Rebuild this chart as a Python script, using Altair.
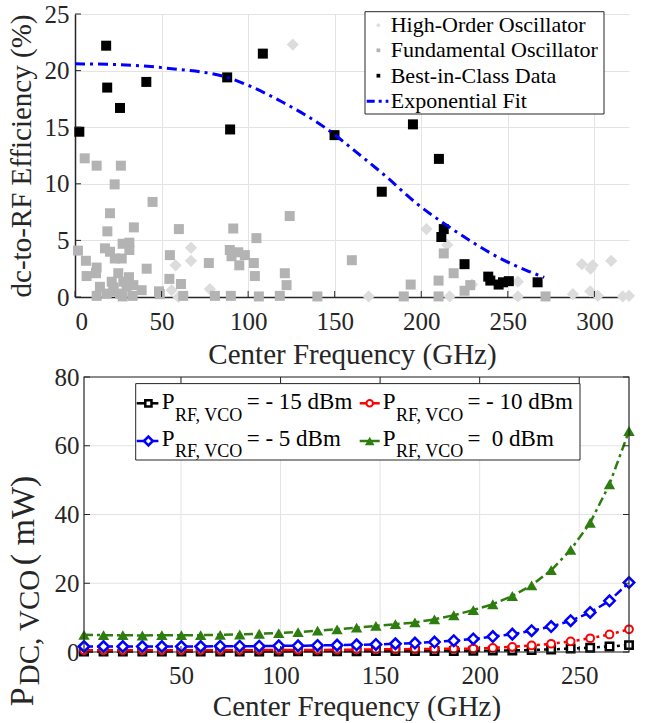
import altair as alt
import pandas as pd

FONT = "'Liberation Serif', 'Times New Roman', Times, 'DejaVu Serif', serif"
INK = "#262626"
GRID = "#e3e3e3"

# ---------------- top panel data ----------------
high_f = [125.8, 58.1, 67.0, 67.0, 77.9, 59.7, 55.8, 169.6, 203.0, 215.0, 216.4, 229.3,
          255.8, 255.8, 287.6, 292.8, 297.8, 299.0, 309.7, 297.6, 302.0, 316.4, 320.0]
high_e = [22.3, 2.8, 4.35, 3.2, 0.7, 0.0, 0.6, 0.05, 6.0, 4.6, 0.05, 1.1,
          1.35, 0.05, 0.25, 2.9, 2.5, 2.8, 3.2, 0.5, 0.1, 0.05, 0.1]

fund_f = [5.6, 12.5, 26.5, 22.9, 44.8, 20.2, 124.0, 18.7, 34.0, 60.0, 91.4, 104.8, 1.7, 17.3,
          20.2, 27.5, 31.4, 31.4, 23.0, 27.0, 6.3, 54.8, 77.3, 89.4, 90.4, 94.3, 98.1, 94.9,
          103.3, 103.9, 121.2, 122.2, 6.7, 12.5, 12.1, 25.0, 31.2, 41.4, 54.5, 61.2, 21.2, 14.4,
          27.9, 33.7, 38.5, 48.5, 12.5, 18.3, 22.2, 26.0, 27.5, 33.3, 49.0, 62.5, 80.8, 90.0,
          106.2, 118.3, 140.0, 22.2, 29.8, 159.9, 189.9, 193.9, 210.0, 210.0, 213.0, 218.7,
          225.0, 228.3, 271.8]
fund_e = [12.25, 11.6, 11.6, 9.95, 8.4, 7.4, 7.15, 5.8, 6.15, 6.0, 6.05, 5.2, 4.1, 4.3,
          4.0, 4.7, 4.8, 4.15, 3.4, 3.4, 3.2, 3.7, 3.0, 4.15, 3.6, 3.95, 3.7, 2.8,
          3.0, 1.85, 2.1, 1.05, 1.85, 2.6, 2.1, 2.1, 1.75, 2.5, 1.6, 1.15, 1.35, 0.9,
          1.35, 1.05, 0.6, 0.5, 0.1, 0.3, 0.5, 0.3, 0.05, 0.1, 0.25, 0.1, 0.1, 0.1,
          0.05, 0.1, 0.05, 0.85, 0.9, 3.25, 0.05, 1.1, 1.45, 0.05, 3.85, 2.1,
          0.55, 1.05, 0.05]

best_f = [2.5, 18.0, 18.6, 26.0, 41.2, 87.9, 89.6, 108.5, 149.9, 177.2, 195.2, 210.2,
          211.6, 213.0, 225.0, 238.7, 239.9, 244.7, 247.2, 250.6, 267.2]
best_e = [14.6, 22.2, 18.5, 16.7, 19.0, 19.4, 14.8, 21.5, 14.3, 9.3, 15.25, 12.2,
          5.3, 6.0, 2.9, 1.8, 1.45, 1.1, 1.3, 1.4, 1.3]

fit_f = [0, 20, 40, 60, 80, 88, 100, 120, 145, 162.5, 180, 197, 216, 230, 247, 260, 271]
fit_e = [20.6, 20.55, 20.4, 20.1, 19.7, 19.4, 18.7, 17.2, 14.9, 12.8, 10.6, 8.3, 6.2, 4.8,
         3.3, 2.4, 1.74]

top_x_ticks = [0, 50, 100, 150, 200, 250, 300]
top_y_ticks = [0, 5, 10, 15, 20, 25]
top_legend = ["High-Order Oscillator", "Fundamental Oscillator", "Best-in-Class Data",
              "Exponential Fit"]

# ---------------- bottom panel data ----------------
freq = [1.3, 11.1, 20.8, 30.6, 40.4, 50.2, 59.9, 69.7, 79.5, 89.3, 99.1, 108.8, 118.6,
        128.4, 138.2, 147.9, 157.7, 167.5, 177.3, 187.0, 196.8, 206.6, 216.4, 226.1,
        235.9, 245.7, 255.5, 265.2, 275.0]
p_m15 = [0.15, 0.15, 0.15, 0.15, 0.15, 0.15, 0.15, 0.15, 0.15, 0.15, 0.15, 0.2, 0.2,
         0.2, 0.2, 0.25, 0.25, 0.25, 0.3, 0.3, 0.35, 0.4, 0.45, 0.6, 0.75, 1.0,
         1.25, 1.6, 2.0]
p_m10 = [0.5, 0.5, 0.5, 0.5, 0.5, 0.5, 0.5, 0.5, 0.5, 0.55, 0.55, 0.6, 0.6,
         0.65, 0.7, 0.75, 0.8, 0.85, 0.9, 0.95, 1.0, 1.2, 1.5, 1.9, 2.4, 3.1,
         4.0, 5.1, 6.6]
p_m5 = [1.6, 1.6, 1.6, 1.6, 1.6, 1.6, 1.6, 1.7, 1.7, 1.7, 1.8, 1.8, 1.9,
        2.0, 2.1, 2.2, 2.4, 2.6, 2.9, 3.3, 3.8, 4.5, 5.2, 6.2, 7.4, 9.1,
        11.5, 14.9, 20.2]
p_0 = [5.0, 4.9, 4.9, 4.8, 4.9, 4.9, 4.9, 5.0, 5.1, 5.3, 5.5, 5.8, 6.2,
       6.6, 7.1, 7.6, 8.1, 8.6, 9.5, 10.7, 12.2, 13.9, 16.3, 19.4, 23.8, 29.7,
       37.6, 48.8, 64.3]
bot_x_ticks = [50, 100, 150, 200, 250]
bot_y_ticks = [0, 20, 40, 60, 80]
bot_legend = ["= - 15 dBm", "= - 10 dBm", "= - 5 dBm", "=\u00a0 0 dBm"]

# ---------------- layout constants ----------------
TW, TH = 554, 283
BW, BH = 554, 275
BX0 = 9

one = pd.DataFrame({"a": [0]})


def txt(s, x, y, size, angle=0, align="left", baseline="alphabetic", color=INK):
    kw = dict(text=s, fontSize=size, font=FONT, align=align, baseline=baseline, color=color)
    if angle:
        kw["angle"] = angle
    return alt.Chart(one).mark_text(**kw).encode(x=alt.value(x), y=alt.value(y))


# ================= TOP PANEL =================
xs_t = alt.Scale(domain=[0, 320], nice=False)
ys_t = alt.Scale(domain=[0, 25], nice=False)
ax_t = alt.Axis(values=top_x_ticks, grid=True, gridColor=GRID, ticks=False, domainColor=INK,
                domainWidth=1.5, labelFont=FONT, labelFontSize=25, labelColor=INK,
                labelPadding=12, title="Center Frequency (GHz)", titleFont=FONT,
                titleFontSize=29, titleFontWeight="normal", titleColor=INK, titlePadding=6)
ay_t = alt.Axis(values=top_y_ticks, grid=True, gridColor=GRID, ticks=False, domainColor=INK,
                domainWidth=1.5, labelFont=FONT, labelFontSize=25, labelColor=INK,
                labelPadding=6, title="dc-to-RF Efficiency (%)", titleFont=FONT,
                titleFontSize=29, titleFontWeight="normal", titleColor=INK, titlePadding=8)

df_high = pd.DataFrame({"f": high_f, "e": high_e})
df_fund = pd.DataFrame({"f": fund_f, "e": fund_e})
df_best = pd.DataFrame({"f": best_f, "e": best_e})
df_fit = pd.DataFrame({"f": fit_f, "e": fit_e})

X_t = alt.X("f:Q", scale=xs_t, axis=ax_t)
Y_t = alt.Y("e:Q", scale=ys_t, axis=ay_t)

high = alt.Chart(df_high).mark_point(shape="diamond", filled=True, size=150,
                                     color="#dcdcdc", opacity=1).encode(x=X_t, y=Y_t)
fund = alt.Chart(df_fund).mark_point(shape="square", filled=True, size=100,
                                     color="#b3b3b3", opacity=1).encode(x=X_t, y=Y_t)
best = alt.Chart(df_best).mark_point(shape="square", filled=True, size=100,
                                     color="black", opacity=1).encode(x=X_t, y=Y_t)
fit = alt.Chart(df_fit).mark_line(color="#0000ff", strokeWidth=3, strokeDash=[10, 5, 3, 5],
                                  interpolate="monotone").encode(x=X_t, y=Y_t)

tx_t = alt.Chart(pd.DataFrame({"f": top_x_ticks})).mark_rule(color=INK, strokeWidth=1).encode(
    x=X_t, y=alt.value(TH), y2=alt.value(TH - 6))
ty_t = alt.Chart(pd.DataFrame({"e": top_y_ticks})).mark_rule(color=INK, strokeWidth=1).encode(
    y=Y_t, x=alt.value(0), x2=alt.value(6))

# legend (top)
LX0, LX1, LY0, LY1 = 290, 529, -2.3, 100
leg_box = alt.Chart(one).mark_rect(fill="white", stroke=INK, strokeWidth=1).encode(
    x=alt.value(LX0), x2=alt.value(LX1), y=alt.value(LY0), y2=alt.value(LY1))
base_rows = [18.3, 43.3, 68.7, 94.3]
sym_x = 303.4
leg_layers = [leg_box]
leg_layers.append(alt.Chart(one).mark_point(shape="diamond", filled=True, size=20, color="#dcdcdc",
                                            opacity=1).encode(x=alt.value(sym_x), y=alt.value(base_rows[0] - 7)))
leg_layers.append(alt.Chart(one).mark_point(shape="square", filled=True, size=14, color="#b3b3b3",
                                            opacity=1).encode(x=alt.value(sym_x), y=alt.value(base_rows[1] - 7)))
leg_layers.append(alt.Chart(one).mark_point(shape="square", filled=True, size=14, color="black",
                                            opacity=1).encode(x=alt.value(sym_x), y=alt.value(base_rows[2] - 7)))
leg_layers.append(alt.Chart(one).mark_rule(color="#0000ff", strokeWidth=3, strokeDash=[8, 4, 3, 4]).encode(
    x=alt.value(291.7), x2=alt.value(313.4), y=alt.value(base_rows[3] - 7)))
for lab, by in zip(top_legend, base_rows):
    leg_layers.append(txt(lab, 315.7, by, 22, color="black"))

top = alt.layer(high, fund, best, fit, tx_t, ty_t, *leg_layers).properties(width=TW, height=TH)

# ================= BOTTOM PANEL =================
xs_b = alt.Scale(domain=[1.3, 275], nice=False, range=[BX0, BW])
ys_b = alt.Scale(domain=[0, 80], nice=False)
ax_b = alt.Axis(values=bot_x_ticks, grid=False, ticks=False, domain=False, labelFont=FONT,
                labelFontSize=25, labelColor=INK, labelPadding=11,
                title="Center Frequency (GHz)", titleFont=FONT, titleFontSize=29,
                titleFontWeight="normal", titleColor=INK, titlePadding=4,
                titleX=(BX0 + BW) / 2)
ay_b = alt.Axis(values=bot_y_ticks, grid=False, ticks=False, domain=False, labelFont=FONT,
                labelFontSize=25, labelColor=INK, labelPadding=5, offset=-BX0, title=None)
X_b = alt.X("f:Q", scale=xs_b, axis=ax_b)
Y_b = alt.Y("p:Q", scale=ys_b, axis=ay_b)

grid_v = alt.Chart(pd.DataFrame({"f": bot_x_ticks})).mark_rule(color=GRID, strokeWidth=1).encode(
    x=X_b, y=alt.value(0), y2=alt.value(BH))
grid_h = alt.Chart(pd.DataFrame({"p": bot_y_ticks})).mark_rule(color=GRID, strokeWidth=1).encode(
    y=Y_b, x=alt.value(BX0), x2=alt.value(BW))
tick_b = alt.Chart(pd.DataFrame({"f": bot_x_ticks})).mark_rule(color=INK).encode(
    x=X_b, y=alt.value(BH), y2=alt.value(BH - 6))
tick_t = alt.Chart(pd.DataFrame({"f": bot_x_ticks})).mark_rule(color=INK).encode(
    x=X_b, y=alt.value(0), y2=alt.value(6))
tick_l = alt.Chart(pd.DataFrame({"p": bot_y_ticks})).mark_rule(color=INK).encode(
    y=Y_b, x=alt.value(BX0), x2=alt.value(BX0 + 6))
tick_r = alt.Chart(pd.DataFrame({"p": bot_y_ticks})).mark_rule(color=INK).encode(
    y=Y_b, x=alt.value(BW - 6), x2=alt.value(BW))
frame = alt.Chart(one).mark_rect(fill=None, stroke=INK, strokeWidth=1.2).encode(
    x=alt.value(BX0), x2=alt.value(BW), y=alt.value(0), y2=alt.value(BH))

series = [
    (p_m15, "black", "square", False, 55, 2.5),
    (p_m10, "#ff0000", "circle", False, 60, 2.0),
    (p_m5, "#0000ff", "diamond", False, 110, 2.5),
    (p_0, "#2e7d0f", "triangle-up", True, 130, 2.0),
]
curve_layers = []
for vals, col, shp, fill, sz, sw in series:
    d = pd.DataFrame({"f": freq, "p": vals})
    curve_layers.append(alt.Chart(d).mark_line(color=col, strokeWidth=2.5, strokeDash=[9, 4, 3, 4]).encode(
        x=X_b, y=Y_b))
    pm = dict(shape=shp, filled=fill, size=sz, color=col, opacity=1, strokeWidth=sw)
    if not fill:
        pm["fill"] = "white"
    curve_layers.append(alt.Chart(d).mark_point(**pm).encode(x=X_b, y=Y_b))

# legend (bottom)
bl = [alt.Chart(one).mark_rect(fill="white", stroke=INK, strokeWidth=1).encode(
    x=alt.value(60.7), x2=alt.value(505), y=alt.value(6.6), y2=alt.value(83))]
cols = [(61.7, 83.4, 73.4, 86.7, 100.0, 171.7), (284.7, 304.7, 294.7, 307.7, 321.0, 392.4)]
rows = [(26.3, 32.3, 44.0), (64.0, 69.0, 80.3)]
for i, (vals, col, shp, fill, sz, sw) in enumerate(series):
    r = rows[i // 2]
    c = cols[i % 2]
    bl.append(alt.Chart(one).mark_rule(color=col, strokeWidth=2.5).encode(
        x=alt.value(c[0]), x2=alt.value(c[1]), y=alt.value(r[0])))
    pm = dict(shape=shp, filled=fill, size=sz * 0.7, color=col, opacity=1, strokeWidth=sw)
    if not fill:
        pm["fill"] = "white"
    bl.append(alt.Chart(one).mark_point(**pm).encode(x=alt.value(c[2]), y=alt.value(r[0])))
    bl.append(txt("P", c[3], r[1], 23, color="black"))
    bl.append(txt("RF, VCO", c[4], r[2], 18, color="black"))
    bl.append(txt(bot_legend[i], c[5], r[1], 23, color="black"))

# y title (bottom), rotated pieces
OXB, OYB = 78.3, 377.7
ytitle = [
    txt("P", 36 - OXB, 707 - OYB, 34, angle=270),
    txt("DC, VCO", 42 - OXB, 686 - OYB, 29, angle=270),
    txt("( mW)", 37 - OXB, 566 - OYB, 34, angle=270),
]

bottom = alt.layer(grid_v, grid_h, *curve_layers, tick_b, tick_t, tick_l, tick_r, frame,
                   *bl, *ytitle).properties(width=BW, height=BH)

chart = alt.vconcat(top, bottom, spacing=-4).configure_view(stroke=None).properties(
    background="white", padding={"left": 5, "top": 2, "right": 5, "bottom": 0})

chart.save("out.html", embed_options={"renderer": "svg", "actions": False})
